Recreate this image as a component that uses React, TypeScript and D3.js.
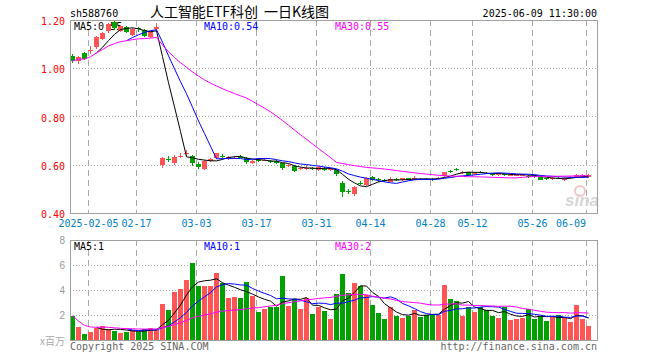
import React from 'react';
import * as d3 from 'd3';

// ---- data ----
const opens = [1.052,1.028,1.062,1.070,1.090,1.122,1.154,1.190,1.155,1.172,1.138,1.166,1.160,1.128,1.164,
  0.597,0.624,0.606,0.634,0.644,0.637,0.603,0.582,0.616,0.629,0.638,0.624,0.627,0.634,0.627,
  0.606,0.621,0.618,0.616,0.615,0.606,0.595,0.596,0.583,0.584,0.587,0.578,0.584,0.580,0.578,
  0.526,0.490,0.479,0.524,0.516,0.550,0.539,0.535,0.530,0.542,0.537,0.544,0.538,0.542,0.542,
  0.542,0.543,0.553,0.573,0.582,0.566,0.568,0.560,0.572,0.567,0.562,0.557,0.561,0.555,0.556,
  0.555,0.554,0.555,0.549,0.544,0.542,0.546,0.540,0.545,0.548,0.549,0.548];
const highs = [1.058,1.050,1.066,1.092,1.132,1.152,1.188,1.198,1.180,1.176,1.168,1.172,1.164,1.156,1.186,
  0.632,0.637,0.640,0.648,0.660,0.640,0.611,0.618,0.628,0.650,0.645,0.636,0.636,0.641,0.632,
  0.620,0.626,0.627,0.620,0.618,0.609,0.603,0.600,0.592,0.598,0.592,0.594,0.590,0.588,0.582,
  0.534,0.500,0.510,0.533,0.548,0.553,0.545,0.540,0.548,0.545,0.547,0.546,0.552,0.546,0.546,
  0.545,0.550,0.572,0.577,0.587,0.574,0.571,0.570,0.576,0.570,0.566,0.564,0.565,0.562,0.563,
  0.563,0.557,0.557,0.551,0.546,0.549,0.549,0.549,0.552,0.560,0.560,0.561];
const lows = [1.022,1.018,1.034,1.058,1.080,1.116,1.148,1.160,1.150,1.146,1.134,1.150,1.128,1.124,1.150,
  0.588,0.612,0.600,0.626,0.636,0.594,0.584,0.580,0.612,0.625,0.628,0.620,0.622,0.627,0.604,
  0.603,0.612,0.614,0.608,0.602,0.578,0.590,0.570,0.578,0.580,0.578,0.574,0.576,0.576,0.555,
  0.467,0.478,0.470,0.516,0.512,0.533,0.530,0.528,0.527,0.534,0.534,0.535,0.536,0.536,0.536,
  0.532,0.540,0.550,0.565,0.574,0.563,0.555,0.557,0.564,0.560,0.552,0.553,0.552,0.552,0.553,
  0.552,0.545,0.547,0.535,0.537,0.538,0.539,0.532,0.543,0.546,0.547,0.546];
const closes = [1.030,1.046,1.038,1.076,1.128,1.146,1.184,1.168,1.175,1.150,1.162,1.162,1.132,1.150,1.170,
  0.627,0.621,0.631,0.638,0.648,0.606,0.590,0.615,0.623,0.647,0.635,0.631,0.630,0.631,0.610,
  0.617,0.618,0.621,0.613,0.606,0.585,0.601,0.574,0.586,0.587,0.584,0.589,0.581,0.583,0.560,
  0.488,0.487,0.506,0.521,0.544,0.537,0.536,0.532,0.540,0.537,0.544,0.538,0.546,0.540,0.540,
  0.540,0.546,0.570,0.570,0.579,0.569,0.558,0.567,0.569,0.564,0.559,0.560,0.558,0.558,0.559,
  0.560,0.551,0.552,0.537,0.541,0.545,0.543,0.543,0.549,0.558,0.557,0.558];
// volume, millions
const volumes = [1.95,1.07,0.48,0.67,0.93,1.12,0.88,0.72,0.59,0.67,0.8,0.67,0.85,0.93,0.8,
  2.88,2.4,3.84,4.08,4.8,6.16,4.32,4.32,4.32,5.36,4.59,3.36,3.44,3.36,4.64,
  3.55,2.24,2.48,2.64,2.64,5.15,2.72,3.28,2.48,3.36,2.08,2.64,2.32,1.68,3.68,
  5.31,3.79,4.59,4.32,3.57,2.8,2.16,1.68,2.64,1.92,1.76,1.92,2.4,1.84,2.0,
  2.08,2.0,4.43,3.28,3.12,1.92,2.64,2.24,2.64,2.4,1.92,1.76,2.64,1.6,1.68,
  1.76,2.48,1.68,1.92,1.52,1.84,2.0,1.76,1.44,2.8,1.68,1.12];
const tickIndex = [3, 11, 21, 31, 41, 50, 60, 67, 77, 86];
const tickLabels = ['2025-02-05', '02-17', '03-03', '03-17', '03-31', '04-14', '04-28', '05-12', '05-26', '06-09'];
const priceTicks = [1.2, 1.0, 0.8, 0.6, 0.4];
const volTicks = [8, 6, 4, 2];
const priceMaLabels = ['MA5:0.55', 'MA10:0.54', 'MA30:0.55'];
const volMaLabels = ['MA5:1', 'MA10:1', 'MA30:2'];
const titleParts = ['人工智能ETF科创', '一', '日K线图'];

const RED = '#ff5555';
const GREEN = '#00a000';
const MONO = '"DejaVu Sans Mono", "Liberation Mono", monospace';
const CJK = '"Noto Sans CJK SC", sans-serif';
const BORDER = '#a0a0a0';
const GRID = '#aaaaaa';
const MA_COLORS = ['#000000', '#0000ff', '#ff00ff'];

function movingAvg(values: number[], n: number, partial: boolean): (number | null)[] {
  return values.map((_, i) => {
    if (i < n - 1 && !partial) return null;
    const s = Math.max(0, i - n + 1);
    return d3.mean(values.slice(s, i + 1)) as number;
  });
}

export default function App() {
  const L = 70, R = 597;
  const pTop = 20, pBot = 213, vTop = 240, vBot = 340;
  const n = closes.length;
  const x = d3.scaleLinear().domain([0, n - 1]).range([70, 586]);
  const yP = d3.scaleLinear().domain([0.4, 1.2]).range([pBot, pTop]);
  const yV = d3.scaleLinear().domain([0, 8]).range([vBot, vTop]);
  const bw = 5;

  const pMAs = [movingAvg(closes, 5, false), movingAvg(closes, 10, false), movingAvg(closes, 30, true)];
  const vMAs = [movingAvg(volumes, 5, false), movingAvg(volumes, 10, false), movingAvg(volumes, 30, true)];

  const lineP = d3.line<number | null>().defined(d => d != null).x((_, i) => x(i) + 2.5).y(d => yP(d as number));
  const lineV = d3.line<number | null>().defined(d => d != null).x((_, i) => x(i) + 2.5).y(d => yV(d as number));

  const maLabelX = [74, 204, 335];

  return (
    <svg width={660} height={360} style={{ position: 'absolute', left: 0, top: 0, background: '#fff' }}>
      <rect x={0} y={0} width={660} height={360} fill="#fff" />
      {/* header */}
      <text x={70} y={16.5} fontFamily={MONO} fontSize={10} fill="#000">sh588760</text>
      <text x={150} y={17} fontFamily={CJK} fontSize={14} fill="#000" textLength={108} lengthAdjust="spacing">{titleParts[0]}</text>
      <text x={264} y={17} fontFamily={CJK} fontSize={14} fill="#000">{titleParts[1]}</text>
      <text x={278} y={17} fontFamily={CJK} fontSize={14} fill="#000">{titleParts[2]}</text>
      <text x={597} y={16.5} fontFamily={MONO} fontSize={10} fill="#000" textAnchor="end">2025-06-09 11:30:00</text>

      {/* price grid */}
      {priceTicks.filter(t => t > 0.41 && t < 1.19).map(t => (
        <line key={'pg' + t} x1={L} x2={R} y1={Math.round(yP(t)) + 0.5} y2={Math.round(yP(t)) + 0.5} stroke={GRID} strokeDasharray="1,2" />
      ))}
      {tickIndex.map(ti => (
        <line key={'pv' + ti} x1={Math.round(x(ti)) + 0.5} x2={Math.round(x(ti)) + 0.5} y1={pTop} y2={pBot} stroke={GRID} strokeDasharray="6,4" />
      ))}
      {/* volume grid */}
      {volTicks.filter(t => t < 8).map(t => (
        <line key={'vg' + t} x1={L} x2={R} y1={Math.round(yV(t)) + 0.5} y2={Math.round(yV(t)) + 0.5} stroke={GRID} strokeDasharray="1,2" />
      ))}
      {tickIndex.map(ti => (
        <line key={'vv' + ti} x1={Math.round(x(ti)) + 0.5} x2={Math.round(x(ti)) + 0.5} y1={vTop} y2={vBot} stroke={GRID} strokeDasharray="6,4" />
      ))}

      {/* watermark */}
      <circle cx={580} cy={191} r={5} fill="none" stroke="#f2c4c4" strokeWidth={2} />
      <text x={565} y={206} fontFamily='"Liberation Sans", sans-serif' fontStyle="italic" fontWeight="bold" fontSize={17} fill="#d6d6d6">sina</text>

      {/* MA labels */}
      {priceMaLabels.map((t, k) => (
        <text key={'pl' + k} x={maLabelX[k]} y={30} fontFamily={MONO} fontSize={10} fill={MA_COLORS[k]}>{t}</text>
      ))}
      {volMaLabels.map((t, k) => (
        <text key={'vl' + k} x={maLabelX[k]} y={250} fontFamily={MONO} fontSize={10} fill={MA_COLORS[k]}>{t}</text>
      ))}

      {/* candles */}
      <g shapeRendering="crispEdges">
        {closes.map((c, i) => {
          const o = opens[i];
          const up = c >= o;
          const col = up ? RED : GREEN;
          const xi = Math.round(x(i));
          const top = Math.round(yP(Math.max(o, c)));
          const bot = Math.round(yP(Math.min(o, c)));
          return (
            <g key={'c' + i}>
              <line x1={xi + 2.5} x2={xi + 2.5} y1={Math.round(yP(highs[i]))} y2={Math.round(yP(lows[i]))} stroke={col} />
              <rect x={xi} y={top} width={bw} height={Math.max(1, bot - top)} fill={col} />
            </g>
          );
        })}
        {volumes.map((v, i) => {
          const up = closes[i] >= opens[i];
          const xi = Math.round(x(i));
          const top = Math.round(yV(v));
          return <rect key={'v' + i} x={xi} y={top} width={bw} height={vBot - top} fill={up ? RED : GREEN} />;
        })}
      </g>

      {/* MA lines */}
      {pMAs.map((m, k) => (
        <path key={'pm' + k} d={lineP(m) || ''} fill="none" stroke={MA_COLORS[k]} strokeWidth={1} />
      ))}
      {vMAs.map((m, k) => (
        <path key={'vm' + k} d={lineV(m) || ''} fill="none" stroke={MA_COLORS[k]} strokeWidth={1} />
      ))}

      {/* borders */}
      <g shapeRendering="crispEdges" fill="none" stroke={BORDER}>
        <rect x={L + 0.5} y={pTop + 0.5} width={R - L} height={pBot - pTop} />
        <rect x={L + 0.5} y={vTop + 0.5} width={R - L} height={vBot - vTop} />
      </g>

      {/* price axis labels */}
      {priceTicks.map(t => (
        <text key={'pt' + t} x={65} y={yP(t) + 5} textAnchor="end" fontFamily={MONO} fontSize={10} fill="#ff0000">{t.toFixed(2)}</text>
      ))}
      {/* volume axis labels */}
      {volTicks.map(t => (
        <text key={'vt' + t} x={65} y={yV(t) + 4} textAnchor="end" fontFamily='"Liberation Sans", Arial, sans-serif' fontSize={10} fill="#999">{t}</text>
      ))}
      <text x={65} y={345} textAnchor="end" fontFamily={CJK} fontSize={10} fill="#aaa">x百万</text>

      {/* date labels */}
      {tickIndex.map((ti, k) => (
        <text key={'d' + ti} x={Math.round(x(ti)) + (k === tickIndex.length - 1 ? 0 : 0.5)} y={227}
          textAnchor={k === tickIndex.length - 1 ? 'end' : 'middle'} fontFamily={MONO} fontSize={10} fill="#0080c8">{tickLabels[k]}</text>
      ))}

      {/* footer */}
      <text x={70} y={350} fontFamily={MONO} fontSize={10} fill="#666">Copyright 2025 SINA.COM</text>
      <text x={597} y={350} textAnchor="end" fontFamily={MONO} fontSize={10} fill="#666">http://finance.sina.com.cn</text>
    </svg>
  );
}
